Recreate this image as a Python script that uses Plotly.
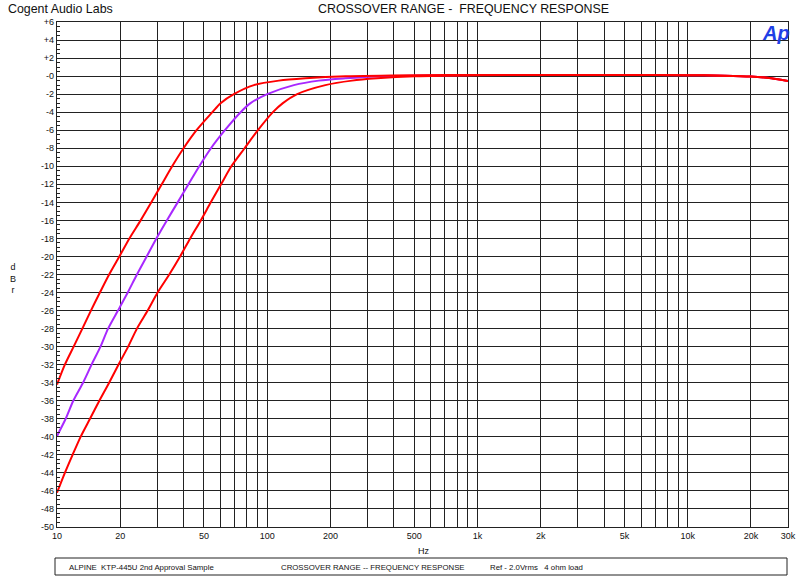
import plotly.graph_objects as go

# ---- data ----
freq_a = [10, 10.9, 12.0, 13.2, 14.5, 16.0, 17.7, 19.8, 22.1, 25.0, 28.1, 31.5, 35.3, 40.0, 46.1, 54.8, 60, 69.4, 86.4, 113.6, 152, 236,
          500, 1000, 2000, 5000, 10000, 15000, 20000, 25000, 30000]
db_a = [-34.2, -32, -30, -28, -26, -24, -22, -20, -18, -16, -14, -12, -10, -8, -6, -4, -3, -2, -1, -0.5, -0.25, -0.02,
        0.1, 0.12, 0.13, 0.13, 0.1, 0.05, -0.05, -0.25, -0.55]

freq_b = [10, 11.0, 11.95, 13.3, 14.6, 16.1, 17.5, 19.5, 21.7, 24.0, 26.7, 29.7, 33.3, 37.5, 42.2, 47.5, 54.0, 62.9, 74.7, 83.3, 100,
          133.9, 176, 235, 351, 600, 1000, 2000, 5000, 10000, 15000, 20000, 25000, 30000]
db_b = [-39.9, -38, -36, -34, -32, -30, -28, -26, -24, -22, -20, -18, -16, -14, -12, -10, -8, -6, -4, -3, -2,
        -1, -0.5, -0.25, -0.02, 0.08, 0.12, 0.13, 0.13, 0.1, 0.05, -0.05, -0.25, -0.55]

freq_c = [10, 10.9, 11.86, 12.95, 14.35, 15.9, 17.7, 19.6, 21.8, 24.0, 27.0, 30.1, 34.2, 38.5, 43.0, 48.3, 53.9, 60.3, 67.5,
          78, 90.3, 106.4, 118.7, 138.8, 189, 253, 333, 505, 1000, 2000, 5000, 10000, 15000, 20000, 25000, 30000]
db_c = [-46.2, -44, -42, -40, -38, -36, -34, -32, -30, -28, -26, -24, -22, -20, -18, -16, -14, -12, -10,
        -8, -6, -4, -3, -2, -1, -0.5, -0.25, -0.02, 0.1, 0.13, 0.13, 0.1, 0.05, -0.05, -0.25, -0.55]

grid_freqs = [10, 20, 30, 40, 50, 60, 70, 80, 90, 100, 200, 300, 400, 500, 600, 700, 800, 900,
              1000, 2000, 3000, 4000, 5000, 6000, 7000, 8000, 9000, 10000, 20000, 30000]
labelled = {10: "10", 20: "20", 50: "50", 100: "100", 200: "200", 500: "500", 1000: "1k", 2000: "2k",
            5000: "5k", 10000: "10k", 20000: "20k", 30000: "30k"}
x_ticktext = [labelled.get(f, "") for f in grid_freqs]

y_tickvals = list(range(6, -51, -2))
y_ticktext = [("+%d" % v) if v > 0 else ("-0" if v == 0 else "%d" % v) for v in y_tickvals]

RED = "#ff0000"
PURPLE = "#a828ff"

# ---- layout geometry ----
W, H = 800, 576
L, R, T, B = 57, 12, 22, 49
PW, PH = W - L - R, H - T - B

def px(x):
    return (x - L) / PW

def py(y):
    return (H - B - y) / PH

FONT = "Liberation Sans, Arial, Helvetica, sans-serif"

fig = go.Figure()
for fx, fy, col in [(freq_b, db_b, PURPLE), (freq_c, db_c, RED), (freq_a, db_a, RED)]:
    fig.add_trace(go.Scatter(x=fx, y=fy, mode="lines",
                             line=dict(color=col, width=2, shape="spline", smoothing=0.8),
                             showlegend=False, hoverinfo="skip"))

fig.update_xaxes(type="log", range=[1, 4.4771], tickmode="array", tickvals=grid_freqs, ticktext=x_ticktext,
                 showgrid=True, gridcolor="#222", gridwidth=1.3, showline=True, linecolor="#222",
                 linewidth=1.3, mirror=True, ticks="", zeroline=False, automargin=False,
                 tickfont=dict(family=FONT, size=9, color="#111"))
fig.update_yaxes(range=[-50, 6], tickmode="array", tickvals=y_tickvals, ticktext=y_ticktext,
                 showgrid=True, gridcolor="#222", gridwidth=1.3, showline=True, linecolor="#222",
                 linewidth=1.3, mirror=True, ticks="inside", ticklen=6, tickcolor="#222",
                 minor=dict(dtick=0.5, tick0=0, ticks="inside", ticklen=3, tickcolor="#222", showgrid=False),
                 zeroline=False, automargin=False, tickfont=dict(family=FONT, size=9, color="#111"))

annotations = [
    dict(x=px(6), y=py(0), text="Cogent Audio Labs", xanchor="left", yanchor="top",
         font=dict(family=FONT, size=12.4, color="#111")),
    dict(x=px(463), y=py(0), text="CROSSOVER RANGE -\u00a0 FREQUENCY RESPONSE", xanchor="center", yanchor="top",
         font=dict(family=FONT, size=12.4, color="#111")),
    dict(x=px(776), y=py(33), text="<b><i>Ap</i></b>", xanchor="center", yanchor="middle",
         font=dict(family=FONT, size=20, color="#1f3fe6")),
    dict(x=px(13), y=py(278), text="d<br>B<br>r", xanchor="center", yanchor="middle",
         font=dict(family=FONT, size=9, color="#111")),
    dict(x=px(424), y=py(551), text="Hz", xanchor="center", yanchor="middle",
         font=dict(family=FONT, size=9, color="#111")),
    dict(x=px(67), y=py(567), text="ALPINE\u00a0 KTP-445U 2nd Approval Sample", xanchor="left", yanchor="middle",
         font=dict(family=FONT, size=7.8, color="#111")),
    dict(x=px(279), y=py(567), text="CROSSOVER RANGE -- FREQUENCY RESPONSE", xanchor="left", yanchor="middle",
         font=dict(family=FONT, size=7.8, color="#111")),
    dict(x=px(488), y=py(567), text="Ref - 2.0Vrms \u00a0 4 ohm load", xanchor="left", yanchor="middle",
         font=dict(family=FONT, size=7.8, color="#111")),
]
for a in annotations:
    a.update(xref="paper", yref="paper", showarrow=False)

fig.update_layout(
    width=W, height=H, margin=dict(l=L, r=R, t=T, b=B),
    paper_bgcolor="white", plot_bgcolor="white",
    annotations=annotations,
    shapes=[dict(type="rect", xref="paper", yref="paper", x0=px(55), x1=px(787), y0=py(558), y1=py(575),
                 line=dict(color="#222", width=1), fillcolor="rgba(0,0,0,0)")],
)

fig.write_html("out.html", config={"displayModeBar": False},
               post_script="document.body.style.margin='0';document.body.style.padding='0';")
